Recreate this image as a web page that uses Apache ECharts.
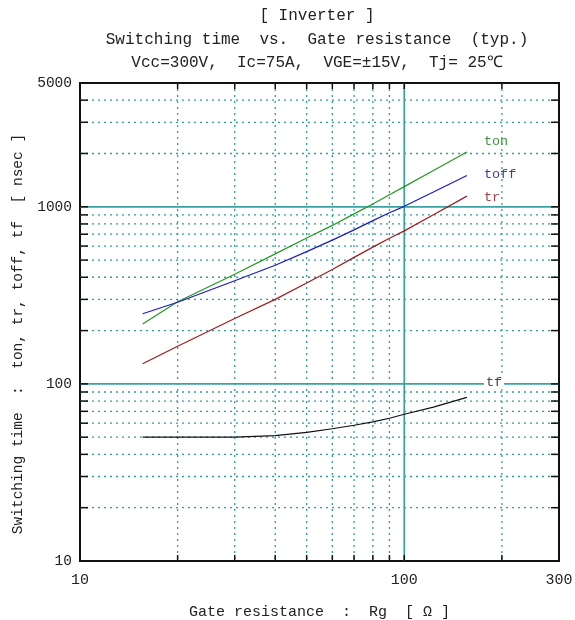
<!DOCTYPE html>
<html><head><meta charset="utf-8">
<script src="https://cdn.jsdelivr.net/npm/echarts@6/dist/echarts.min.js"></script>
<style>html,body{margin:0;padding:0;background:#fff}#c{width:575px;height:620px}</style>
</head><body><div id="c"></div>
<script>
// ---- text ----
const titleLines = ['[ Inverter ]', 'Switching time  vs.  Gate resistance  (typ.)', 'Vcc=300V,  Ic=75A,  VGE=±15V,  Tj= 25℃'];
const xName = 'Gate resistance  :  Rg  [ Ω ]';
const yName = 'Switching time  :  ton, tr, toff, tf  [ nsec ]';
// ---- axes ----
const xRange = [10, 300];
const yRange = [10, 5000];
const xTickLabels = ['10', '100', '300'];
const yTickLabels = ['10', '100', '1000', '5000'];
const xMinorGrid = [20, 30, 40, 50, 60, 70, 80, 90, 200];
const yMinorGrid = [20, 30, 40, 50, 60, 70, 80, 90, 200, 300, 400, 500, 600, 700, 800, 900, 2000, 3000, 4000];
const xMajorGrid = [100];
const yMajorGrid = [100, 1000];
// ---- data ----
const rg   = [15.6, 20,  30,  40,  50,   60,   70,   80,   90,   100,  123,  156];
const ton  = [218,  291, 416, 542, 667,  785,  912,  1038, 1170, 1300, 1604, 2037];
const toff = [249,  289, 382, 468, 558,  648,  741,  835,  925,  1006, 1212, 1503];
const tr   = [130,  163, 234, 300, 371,  443,  518,  592,  664,  731,  902,  1149];
const tf   = [50,   50,  50.1, 51,  53.2, 55.8, 58.4, 61.1, 64,   67.4, 74,   84];
const seriesNames = ['ton', 'toff', 'tr', 'tf'];

const FONT = '"Liberation Mono", "DejaVu Sans Mono", monospace';
const TEAL = '#2f9e9e';
const dotted = { stroke: TEAL, lineWidth: 1.3, lineDash: [2, 4] };
const solid = { stroke: '#3aa3a3', lineWidth: 1.8 };
const tickStyle = { stroke: '#111', lineWidth: 1.5 };

function vLines(style, tickLen) {
  return function (params, api) {
    const cs = params.coordSys;
    const x = api.coord([api.value(0), yRange[0]])[0];
    const top = cs.y, bot = cs.y + cs.height;
    return { type: 'group', children: [
      { type: 'line', shape: { x1: x, y1: top, x2: x, y2: bot }, style: style },
      { type: 'line', shape: { x1: x, y1: bot, x2: x, y2: bot - tickLen }, style: tickStyle },
      { type: 'line', shape: { x1: x, y1: top, x2: x, y2: top + tickLen }, style: tickStyle }
    ]};
  };
}
function hLines(style, tickLen) {
  return function (params, api) {
    const cs = params.coordSys;
    const y = api.coord([xRange[0], api.value(1)])[1];
    const l = cs.x, r = cs.x + cs.width;
    return { type: 'group', children: [
      { type: 'line', shape: { x1: l, y1: y, x2: r, y2: y }, style: style },
      { type: 'line', shape: { x1: l, y1: y, x2: l + tickLen, y2: y }, style: tickStyle },
      { type: 'line', shape: { x1: r, y1: y, x2: r - tickLen, y2: y }, style: tickStyle }
    ]};
  };
}

function lineSeries(name, values, color, labelColor, offset, bg) {
  return {
    name: name, type: 'line', z: 5, silent: true,
    data: rg.map((x, i) => [x, values[i]]),
    showSymbol: false, symbol: 'none', smooth: false,
    lineStyle: { color: color, width: 1.2 },
    itemStyle: { color: color },
    endLabel: {
      show: true, formatter: '{a}', offset: offset,
      fontFamily: FONT, fontSize: 13.5, color: labelColor,
      backgroundColor: bg || 'transparent', padding: bg ? [0, 2] : 0
    }
  };
}

const chart = echarts.init(document.getElementById('c'), null, { renderer: 'canvas' });
chart.setOption({
  animation: false,
  backgroundColor: '#fff',
  grid: { left: 80, right: 16, top: 83, bottom: 59, containLabel: false, outerBoundsMode: 'none',
          show: true, borderColor: '#111', borderWidth: 2, backgroundColor: 'transparent' },
  graphic: [
    { type: 'text', x: 317, y: 16, style: { text: titleLines[0], align: 'center', verticalAlign: 'middle', font: '16px ' + FONT, fill: '#222' } },
    { type: 'text', x: 317, y: 40, style: { text: titleLines[1], align: 'center', verticalAlign: 'middle', font: '16px ' + FONT, fill: '#222' } },
    { type: 'text', x: 317, y: 63, style: { text: titleLines[2], align: 'center', verticalAlign: 'middle', font: '16px ' + FONT, fill: '#222' } },
    { type: 'text', x: 18, y: 334, rotation: Math.PI / 2, style: { text: yName, align: 'center', verticalAlign: 'middle', font: '14.5px ' + FONT, fill: '#222' } }
  ],
  xAxis: {
    type: 'log', logBase: 10, min: xRange[0], max: xRange[1],
    name: xName, nameLocation: 'middle', nameGap: 44,
    nameTextStyle: { fontFamily: FONT, fontSize: 15, color: '#222' },
    axisLine: { show: true, lineStyle: { color: '#111', width: 2 } },
    axisTick: { show: false }, splitLine: { show: false }, minorTick: { show: false },
    axisLabel: {
      margin: 12, fontFamily: FONT, fontSize: 15, color: '#222',
      showMinLabel: true, showMaxLabel: true,
      formatter: v => { const s = String(Math.round(v)); return xTickLabels.includes(s) ? s : ''; }
    }
  },
  yAxis: {
    type: 'log', logBase: 10, min: yRange[0], max: yRange[1],
    axisLine: { show: true, lineStyle: { color: '#111', width: 2 } },
    axisTick: { show: false }, splitLine: { show: false }, minorTick: { show: false },
    axisLabel: {
      margin: 8, fontFamily: FONT, fontSize: 14.5, color: '#222',
      showMinLabel: true, showMaxLabel: true,
      formatter: v => { const s = String(Math.round(v)); return yTickLabels.includes(s) ? s : ''; }
    }
  },
  series: [
    { type: 'custom', silent: true, z: 1, clip: false, encode: { x: 0, y: 1 },
      data: xMinorGrid.map(v => [v, yRange[0]]), renderItem: vLines(dotted, 6) },
    { type: 'custom', silent: true, z: 1, clip: false, encode: { x: 0, y: 1 },
      data: yMinorGrid.map(v => [xRange[0], v]), renderItem: hLines(dotted, 8) },
    { type: 'custom', silent: true, z: 2, clip: false, encode: { x: 0, y: 1 },
      data: xMajorGrid.map(v => [v, yRange[0]]), renderItem: vLines(solid, 6) },
    { type: 'custom', silent: true, z: 2, clip: false, encode: { x: 0, y: 1 },
      data: yMajorGrid.map(v => [xRange[0], v]), renderItem: hLines(solid, 8) },
    lineSeries(seriesNames[0], ton, '#229922', '#3a9a3a', [9, -11]),
    lineSeries(seriesNames[1], toff, '#1c1cc0', '#3c3cb4', [9, -1]),
    lineSeries(seriesNames[2], tr, '#a01c1c', '#a84040', [9, 1]),
    lineSeries(seriesNames[3], tf, '#111111', '#444444', [9, -15], '#ffffff')
  ]
});
</script></body></html>
